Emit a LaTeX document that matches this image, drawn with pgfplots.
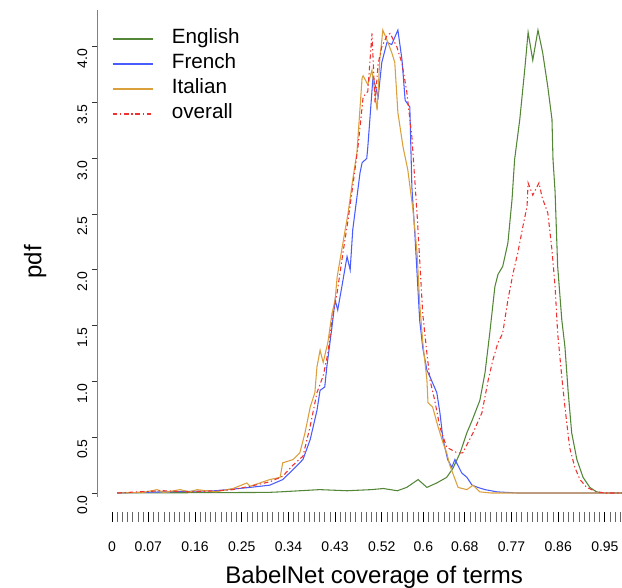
\documentclass[border=0pt]{standalone}
\usepackage{fontspec}
\setmainfont{Liberation Sans}
\usepackage{pgfplots}
\pgfplotsset{compat=1.18}
\definecolor{cEng}{RGB}{84,134,56}
\definecolor{cFre}{RGB}{72,92,255}
\definecolor{cIta}{RGB}{218,160,60}
\definecolor{cAll}{RGB}{238,50,50}
\begin{document}
\begin{tikzpicture}
\useasboundingbox (-72.75pt,-68.25pt) rectangle (393.75pt,372.75pt);
% x axis (detached ticks)
\begin{axis}[
  scale only axis, width=393.75pt, height=365.25pt,
  xmin=-0.029, xmax=0.983, ymin=-0.036, ymax=4.33,
  axis x line*=bottom, axis y line=none,
  axis x line shift=11.25pt,
  x axis line style={draw=none},
  tick align=outside,
  major tick length=7.5pt, minor tick length=7.5pt,
  xtick={0,0.07,0.16,0.25,0.34,0.43,0.52,0.6,0.68,0.77,0.86,0.95},
  xticklabels={0,0.07,0.16,0.25,0.34,0.43,0.52,0.6,0.68,0.77,0.86,0.95},
  minor xtick={0,0.01,...,0.985},
  every major x tick/.style={black, line width=0.6pt},
  every minor x tick/.style={black!60, line width=0.6pt},
  xticklabel style={font=\fontsize{10.5}{12}\selectfont, yshift=-11pt},
  xlabel={BabelNet coverage of terms},
  xlabel style={font=\fontsize{18}{21}\selectfont, at={(axis description cs:0.528,-0.177)}, anchor=base},
]
\addplot[draw=none] coordinates {(0,0)};
\end{axis}
% main axis
\begin{axis}[
  scale only axis, width=393.75pt, height=365.25pt,
  xmin=-0.029, xmax=0.983, ymin=-0.036, ymax=4.33,
  axis x line=none, axis y line*=left,
  y axis line style={draw=black!50, line width=0.7pt},
  tick align=outside,
  major tick length=3.75pt,
  ytick={0,0.5,...,4.0},
  every major y tick/.style={black!80, line width=0.7pt},
  /pgf/number format/assume math mode=true,
  yticklabel style={font=\fontsize{10.5}{12}\selectfont, rotate=90, anchor=south, xshift=-9pt,
    /pgf/number format/fixed, /pgf/number format/fixed zerofill, /pgf/number format/precision=1},
  ylabel={pdf},
  ylabel style={font=\fontsize{18}{21}\selectfont, at={(axis description cs:-0.118,0.483)}, anchor=center, rotate=0},
  legend cell align=left,
  legend image code/.code={\draw[#1, line width=1.4pt] (0pt,0pt) -- (30pt,0pt); \path (40pt,0pt);},
  legend style={draw=none, fill=none, at={(axis description cs:0.02,0.972)}, anchor=north west,
    font=\fontsize{15.5}{18}\selectfont, row sep=0pt,
    nodes={inner xsep=4pt, inner ysep=1.4pt, text height=11.5pt, text depth=4.5pt}},
  clip=true,
]
\addplot[cEng, line width=0.8pt] coordinates {
(0.010,0) (0.30,0.005) (0.324,0.01) (0.40,0.03) (0.453,0.02) (0.50,0.03) (0.523,0.04) (0.55,0.02)
(0.568,0.05) (0.590,0.12) (0.607,0.05) (0.626,0.09) (0.645,0.14) (0.657,0.22) (0.671,0.36)
(0.684,0.54) (0.694,0.65) (0.709,0.83) (0.719,1.08) (0.728,1.43) (0.738,1.85) (0.744,1.96)
(0.753,2.03) (0.763,2.24) (0.771,2.63) (0.776,2.99) (0.786,3.35) (0.796,3.82) (0.802,4.13)
(0.811,3.88) (0.821,4.15) (0.830,3.95) (0.840,3.64) (0.848,3.35) (0.850,2.99) (0.854,2.70)
(0.859,2.03) (0.867,1.55) (0.873,1.31) (0.879,0.92) (0.886,0.54) (0.896,0.30) (0.908,0.14)
(0.921,0.05) (0.934,0.01) (0.95,0) (0.983,0)};
\addlegendentry{English}
\addplot[cFre, line width=0.8pt] coordinates {
(0.010,0) (0.10,0.01) (0.20,0.02) (0.266,0.05) (0.304,0.07) (0.329,0.12) (0.349,0.21) (0.368,0.30)
(0.382,0.48) (0.395,0.74) (0.401,0.92) (0.410,0.95) (0.414,1.13) (0.424,1.49) (0.430,1.73)
(0.435,1.64) (0.443,1.85) (0.453,2.12) (0.459,2.00) (0.464,2.36) (0.472,2.65) (0.478,2.87)
(0.482,2.96) (0.491,3.00) (0.493,3.10) (0.497,3.35) (0.503,3.73) (0.513,3.55) (0.520,3.86)
(0.530,4.04) (0.539,4.02) (0.551,4.15) (0.559,3.88) (0.565,3.52) (0.574,3.46) (0.578,2.74)
(0.584,2.30) (0.593,1.55) (0.599,1.30) (0.607,1.10) (0.613,1.04) (0.626,0.90) (0.632,0.72)
(0.638,0.48) (0.647,0.30) (0.655,0.23) (0.661,0.30) (0.674,0.18) (0.684,0.14) (0.694,0.07)
(0.705,0.05) (0.719,0.03) (0.742,0.01) (0.78,0) (0.983,0)};
\addlegendentry{French}
\addplot[cIta, line width=0.8pt] coordinates {
(0.010,0) (0.06,0.005) (0.087,0.03) (0.10,0.005) (0.131,0.03) (0.15,0.01) (0.164,0.03) (0.20,0.01)
(0.233,0.04) (0.260,0.09) (0.266,0.06) (0.285,0.09) (0.304,0.12) (0.324,0.14) (0.329,0.27)
(0.349,0.30) (0.362,0.36) (0.372,0.54) (0.382,0.77) (0.391,0.90) (0.395,1.13) (0.401,1.28)
(0.407,1.17) (0.416,1.35) (0.424,1.61) (0.430,1.73) (0.434,1.94) (0.445,2.24) (0.455,2.51)
(0.464,2.81) (0.472,3.05) (0.482,3.72) (0.484,3.74) (0.493,3.66) (0.501,3.79) (0.511,3.43)
(0.516,3.88) (0.522,4.15) (0.530,4.06) (0.539,3.95) (0.545,3.86) (0.551,3.41) (0.561,3.10)
(0.570,2.90) (0.580,2.54) (0.588,2.15) (0.593,1.70) (0.599,1.35) (0.607,1.01) (0.609,0.81)
(0.618,0.77) (0.628,0.60) (0.638,0.45) (0.645,0.36) (0.651,0.25) (0.667,0.05) (0.684,0.03)
(0.696,0.07) (0.709,0.01) (0.73,0) (0.983,0)};
\addlegendentry{Italian}
\addplot[cAll, line width=0.8pt, dash pattern=on 3.5pt off 2pt on 1pt off 2pt] coordinates {
(0.010,0) (0.05,0.01) (0.10,0.02) (0.15,0.01) (0.20,0.02) (0.233,0.03) (0.266,0.06) (0.304,0.10)
(0.329,0.15) (0.349,0.25) (0.368,0.33) (0.382,0.60) (0.395,0.90) (0.407,1.05) (0.416,1.25)
(0.424,1.55) (0.434,1.80) (0.445,2.15) (0.455,2.45) (0.464,2.75) (0.474,3.10) (0.484,3.55)
(0.493,3.60) (0.501,4.12) (0.507,3.50) (0.513,3.85) (0.520,4.00) (0.530,4.10) (0.536,4.12)
(0.549,4.00) (0.559,3.85) (0.568,3.60) (0.578,3.19) (0.588,2.50) (0.599,1.60) (0.607,1.25)
(0.613,1.01) (0.622,0.83) (0.632,0.59) (0.645,0.41) (0.665,0.36) (0.676,0.36) (0.696,0.54)
(0.713,0.72) (0.725,1.01) (0.734,1.19) (0.744,1.35) (0.753,1.43) (0.763,1.73) (0.773,1.97)
(0.782,2.15) (0.792,2.39) (0.800,2.57) (0.802,2.78) (0.811,2.67) (0.823,2.78) (0.829,2.65)
(0.840,2.51) (0.848,2.18) (0.854,1.85) (0.859,1.43) (0.867,1.04) (0.873,0.77) (0.882,0.41)
(0.892,0.23) (0.902,0.12) (0.915,0.05) (0.934,0.01) (0.95,0) (0.983,0)};
\addlegendentry{overall}
\end{axis}
\end{tikzpicture}
\end{document}
